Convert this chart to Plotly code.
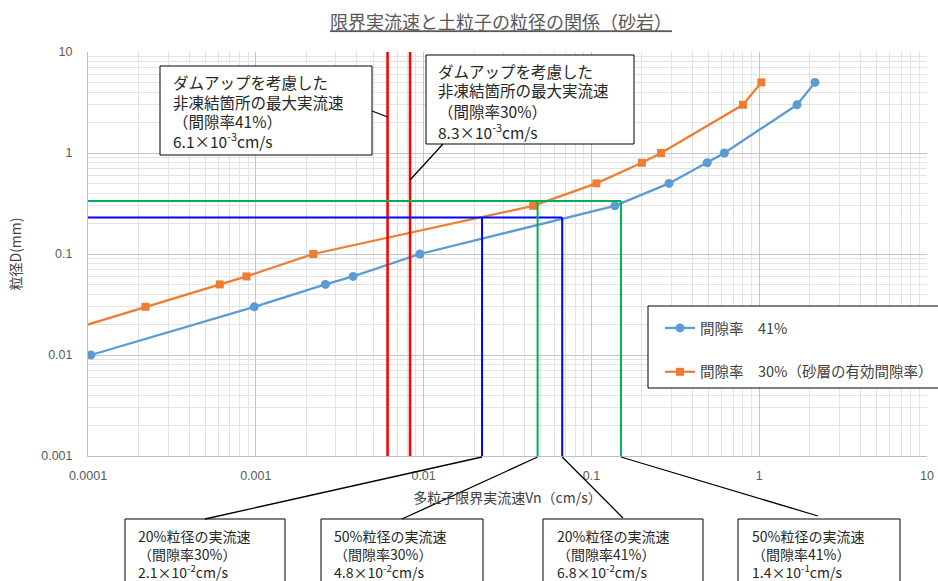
import math
import plotly.graph_objects as go

# ---------------- data ----------------
v41 = [0.000104, 0.00098, 0.0026, 0.0038, 0.0095, 0.138, 0.29, 0.49, 0.62, 1.68, 2.15]
d41 = [0.01, 0.03, 0.05, 0.06, 0.1, 0.3, 0.5, 0.8, 1.0, 3.0, 5.0]
v30 = [0.00009, 0.00022, 0.00061, 0.00088, 0.0022, 0.045, 0.107, 0.2, 0.26, 0.8, 1.03]
d30 = [0.019, 0.03, 0.05, 0.06, 0.1, 0.3, 0.5, 0.8, 1.0, 3.0, 5.0]

dam_v = [0.0061, 0.0083]          # red lines (41%, 30%)
d20_level = 0.23                  # 20% grain size
d50_level = 0.335                 # 50% grain size
v20 = [0.0223, 0.067]             # blue verticals (30%, 41%)
v50 = [0.0478, 0.15]              # green verticals (30%, 41%)

x_ticks = [0.0001, 0.001, 0.01, 0.1, 1, 10]
x_labels = ["0.0001", "0.001", "0.01", "0.1", "1", "10"]
y_ticks = [0.001, 0.01, 0.1, 1, 10]
y_labels = ["0.001", "0.01", "0.1", "1", "10"]

name41 = "間隙率　41%"
name30 = "間隙率　30%（砂層の有効間隙率）"
title = "限界実流速と土粒子の粒径の関係（砂岩）"
xtitle = "多粒子限界実流速Vn（cm/s）"
ytitle = "粒径D(mm)"

top_boxes = [
    ["ダムアップを考慮した", "非凍結箇所の最大実流速", "（間隙率41%）", "6.1×10<sup>-3</sup>cm/s"],
    ["ダムアップを考慮した", "非凍結箇所の最大実流速", "（間隙率30%）", "8.3×10<sup>-3</sup>cm/s"],
]
bottom_boxes = [
    ["20%粒径の実流速", "（間隙率30%）", "2.1×10<sup>-2</sup>cm/s"],
    ["50%粒径の実流速", "（間隙率30%）", "4.8×10<sup>-2</sup>cm/s"],
    ["20%粒径の実流速", "（間隙率41%）", "6.8×10<sup>-2</sup>cm/s"],
    ["50%粒径の実流速", "（間隙率41%）", "1.4×10<sup>-1</sup>cm/s"],
]

# ---------------- layout geometry (page pixels) ----------------
W, H = 938, 581
L, R, T, B = 88, 927, 52, 456
PW, PH = R - L, B - T
XMIN, XMAX = -4, 1
YMIN, YMAX = -3, 1

def px(xpix):
    return (xpix - L) / PW

def py(ypix):
    return (B - ypix) / PH

def xv(v):
    return (math.log10(v) - XMIN) / (XMAX - XMIN)

JP = "Noto Sans CJK JP"
BLUE = "#5B9BD5"
ORANGE = "#ED7D31"

fig = go.Figure()
fig.add_trace(go.Scatter(x=v41, y=d41, mode="lines+markers", name=name41,
                         legendgroup="a",
                         line=dict(color=BLUE, width=2.25),
                         marker=dict(symbol="circle", size=9, color=BLUE)))
fig.add_trace(go.Scatter(x=v30, y=d30, mode="lines+markers", name=name30,
                         legendgroup="b",
                         line=dict(color=ORANGE, width=2.25),
                         marker=dict(symbol="square", size=8, color=ORANGE)))

ybot, ytop = 10 ** YMIN, 10 ** YMAX
xleft = 10 ** XMIN
for v in dam_v:
    fig.add_trace(go.Scatter(x=[v, v], y=[ybot, ytop], mode="lines", showlegend=False,
                             line=dict(color="#FF0000", width=2.5), hoverinfo="skip"))
fig.add_trace(go.Scatter(x=[xleft, max(v20)], y=[d20_level, d20_level], mode="lines",
                         showlegend=False, line=dict(color="#0000FF", width=2), hoverinfo="skip"))
for v in v20:
    fig.add_trace(go.Scatter(x=[v, v], y=[ybot, d20_level], mode="lines", showlegend=False,
                             line=dict(color="#0000FF", width=2), hoverinfo="skip"))
fig.add_trace(go.Scatter(x=[xleft, max(v50)], y=[d50_level, d50_level], mode="lines",
                         showlegend=False, line=dict(color="#00B050", width=2), hoverinfo="skip"))
for v in v50:
    fig.add_trace(go.Scatter(x=[v, v], y=[ybot, d50_level], mode="lines", showlegend=False,
                             line=dict(color="#00B050", width=2), hoverinfo="skip"))

shapes = []
annotations = []

def box(x0, y0, x1, y1):
    shapes.append(dict(type="rect", xref="paper", yref="paper",
                       x0=px(x0), x1=px(x1), y0=py(y1), y1=py(y0),
                       line=dict(color="#000000", width=1), fillcolor="white", layer="above"))

def seg(x0, y0, x1, y1):
    shapes.append(dict(type="line", xref="paper", yref="paper",
                       x0=x0, y0=y0, x1=x1, y1=y1,
                       line=dict(color="#000000", width=1.3), layer="above"))

def lines_text(lines, xpix, ys, size):
    for t, yy in zip(lines, ys):
        annotations.append(dict(text=t, xref="paper", yref="paper", x=px(xpix), y=py(yy),
                                xanchor="left", yanchor="middle", showarrow=False,
                                font=dict(family=JP, size=size, color="#262626")))

# top boxes
box(160, 66, 372, 155)
lines_text(top_boxes[0], 171, [82.5, 101.5, 120.5, 140], 15.5)
box(426, 55, 634, 144)
lines_text(top_boxes[1], 436, [70.5, 90.5, 110.5, 131], 15.5)
seg(px(372), py(111), xv(dam_v[0]), py(117))
seg(px(443), py(144), xv(dam_v[1]), py(180))

# bottom boxes
bxs = [(125, 285, 136), (321, 483, 332), (543, 703, 555), (738, 900, 750)]
for (x0, x1, xt), lines in zip(bxs, bottom_boxes):
    box(x0, 519, x1, 600)
    lines_text(lines, xt, [535.5, 553.5, 571], 14)
seg(px(205), py(519), xv(v20[0]), py(457))
seg(px(402), py(519), xv(v50[0]), py(457))
seg(px(623), py(518), xv(v20[1]), py(457))
seg(px(818), py(516), xv(v50[1]), py(457))

# legend frame (extends past the right edge like the reference)
box(648, 306, 950, 388)

axis_common = dict(type="log", showgrid=True, gridcolor="#c6c6c6", gridwidth=1,
                   zeroline=False, showline=True, linecolor="#bfbfbf", linewidth=1,
                   ticks="", automargin=False,
                   tickfont=dict(family="Liberation Sans", size=12.5, color="#595959"),
                   minor=dict(dtick="D1", showgrid=True, gridcolor="#e3e3e3", gridwidth=1))

fig.update_layout(
    width=W, height=H,
    margin=dict(l=L, r=W - R, t=T, b=H - B, autoexpand=False),
    paper_bgcolor="white", plot_bgcolor="white",
    title=dict(text="<u>" + title + "</u>", xref="paper", x=px(501), xanchor="center",
               y=1 - 23 / H, yanchor="middle",
               font=dict(family=JP, size=18, color="#595959")),
    xaxis=dict(axis_common, range=[XMIN, XMAX], tickvals=x_ticks, ticktext=x_labels,
               ticklabelstandoff=8,
               title=dict(text=xtitle, font=dict(family=JP, size=14, color="#404040"),
                          standoff=11)),
    yaxis=dict(axis_common, range=[YMIN, YMAX], tickvals=y_ticks, ticktext=y_labels,
               ticklabelstandoff=12,
               title=dict(text=ytitle, font=dict(family=JP, size=14, color="#404040"),
                          standoff=16)),
    legend=dict(x=px(660), y=py(312), xanchor="left", yanchor="top",
                borderwidth=0, bgcolor="rgba(0,0,0,0)",
                font=dict(family=JP, size=14.5, color="#404040"),
                tracegroupgap=22, itemwidth=30),
    shapes=shapes,
    annotations=annotations,
    showlegend=True,
)

fig.write_html("out.html",
               config={"displayModeBar": False},
               post_script="document.body.style.margin='0';document.body.style.overflow='hidden';")
